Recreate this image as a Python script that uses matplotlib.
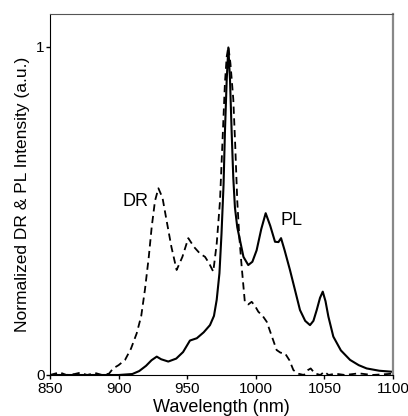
import matplotlib.pyplot as plt
import numpy as np

plt.rcParams['font.family'] = ['Liberation Sans', 'DejaVu Sans']

# PL spectrum (solid)
pl_wl = [850, 880, 900, 910, 915, 920, 924, 927.8, 931, 936.2, 942, 947, 952, 957, 962,
         966.6, 969.5, 971.5, 973.5, 975, 976.5, 977.5, 978.8, 980, 981.2, 982.4, 983.6,
         984.8, 986.5, 988.5, 991, 994.5, 997.5, 1000.6, 1004, 1007.2, 1010.5, 1014,
         1016.5, 1018.4, 1021, 1024.9, 1028.5, 1032.2, 1036, 1039.5, 1042, 1044.4,
         1046.8, 1048.8, 1050.8, 1052.9, 1056.5, 1062, 1068.7, 1075, 1080.8, 1090, 1099]
pl_int = [0.0, 0.0, 0.0, 0.003, 0.012, 0.028, 0.045, 0.056, 0.048, 0.041, 0.05, 0.07,
          0.105, 0.112, 0.13, 0.152, 0.18, 0.229, 0.31, 0.43, 0.58, 0.74, 0.9, 0.998,
          0.9, 0.74, 0.6, 0.51, 0.45, 0.41, 0.36, 0.335, 0.345, 0.38, 0.445, 0.493,
          0.455, 0.406, 0.405, 0.417, 0.38, 0.32, 0.26, 0.198, 0.165, 0.152, 0.165,
          0.198, 0.235, 0.254, 0.225, 0.178, 0.117, 0.075, 0.046, 0.03, 0.02, 0.013, 0.01]

# DR spectrum (dashed)
dr_wl = [850, 857, 862, 868, 872, 877, 883, 888, 893, 896, 900, 904.7, 909, 913.2,
         916.5, 919.2, 922, 924.1, 926.5, 929, 932, 935, 938.5, 942.3, 946.5, 950.8,
         955, 959.3, 963, 966, 969, 971.5, 973.9, 975.8, 977.5, 978.8, 980, 981.5,
         983.6, 985, 986.5, 988, 989.7, 992, 994.5, 997, 999.5, 1001.8, 1005, 1008,
         1011.5, 1015.2, 1018, 1021.3, 1024.5, 1027.4, 1031, 1035, 1038, 1040, 1043,
         1047, 1050, 1053, 1058, 1065, 1075, 1085, 1100]
dr_int = [0.0, 0.008, 0.0, 0.003, 0.007, 0.0, 0.006, 0.0, 0.004, 0.02, 0.03, 0.046,
          0.08, 0.127, 0.18, 0.26, 0.36, 0.45, 0.53, 0.569, 0.54, 0.47, 0.39, 0.32,
          0.36, 0.417, 0.39, 0.37, 0.36, 0.34, 0.315, 0.4, 0.53, 0.72, 0.89, 0.97, 1.0,
          0.95, 0.84, 0.7, 0.53, 0.42, 0.33, 0.223, 0.215, 0.223, 0.21, 0.193, 0.18,
          0.162, 0.12, 0.076, 0.068, 0.066, 0.045, 0.015, 0.004, 0.0, 0.015, 0.02, 0.005,
          0.0, 0.01, 0.0, 0.004, 0.0, 0.005, 0.0, 0.004]

fig = plt.figure(figsize=(4.08, 4.16), dpi=100)
ax = fig.add_axes([50 / 408, 1 - 375 / 416, 343 / 408, 361 / 416])

ax.plot(pl_wl, pl_int, color='black', lw=1.5)
ax.plot(dr_wl, dr_int, color='black', lw=1.3, ls=(0, (4, 2.5)))

ax.set_xlim(850, 1100)
ax.set_ylim(0, 1.1)
ax.set_xticks([850, 900, 950, 1000, 1050, 1100])
ax.set_yticks([0, 1])
ax.set_yticklabels(['0', '1'])
ax.tick_params(axis='both', direction='out', length=3, width=1, labelsize=11)
ax.tick_params(axis='x', pad=2)
ax.tick_params(axis='y', pad=1)

ax.spines['left'].set_color('black')
ax.spines['bottom'].set_color('black')
ax.spines['top'].set_color('#555555')
ax.spines['right'].set_color('#888888')
ax.spines['right'].set_linewidth(1.6)

ax.set_xlabel('Wavelength (nm)', fontsize=13, labelpad=2)
ax.set_ylabel('Normalized DR & PL Intensity (a.u.)', fontsize=12.5, labelpad=4)

ax.text(912, 0.53, 'DR', fontsize=13, ha='center', va='center')
ax.text(1026, 0.47, 'PL', fontsize=13, ha='center', va='center')

fig.savefig('out.png', dpi=100)
